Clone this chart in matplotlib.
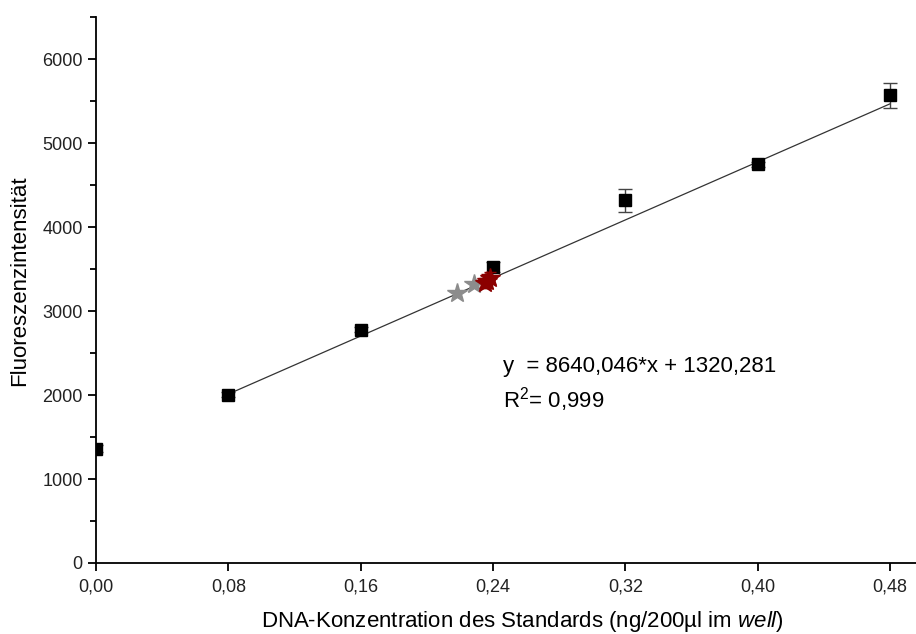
import matplotlib
matplotlib.use("Agg")
import matplotlib.pyplot as plt
from matplotlib.ticker import MultipleLocator, FuncFormatter

plt.rcParams['font.family'] = ['Liberation Sans', 'DejaVu Sans']
plt.rcParams['mathtext.fontset'] = 'custom'
plt.rcParams['mathtext.rm'] = 'Liberation Sans'
plt.rcParams['mathtext.it'] = 'Liberation Sans:italic'

# Standards (black squares)
std_x = [0.00, 0.08, 0.16, 0.24, 0.32, 0.40, 0.48]
std_y = [1360, 2005, 2780, 3530, 4320, 4750, 5570]
std_err = [40, 30, 30, 60, 135, 30, 150]

# samples (stars)
grey_x = [0.2183, 0.2286]
grey_y = [3210, 3317]
red_x = [0.2350, 0.2365, 0.2380]
red_y = [3330, 3360, 3390]
red_err = [60, 80, 70]

# linear fit
slope = 8640.046
icept = 1320.281
fit_x = [0.08, 0.48]
fit_y = [slope * v + icept for v in fit_x]

fig = plt.figure(figsize=(9.16, 6.34), dpi=100)
ax = fig.add_axes([0.1048, 0.112, 0.8952, 0.861])

ax.plot(fit_x, fit_y, color='#333333', lw=0.9, zorder=2)
ax.errorbar(std_x, std_y, yerr=std_err, fmt='s', color='black', ms=8,
            ecolor='#444444', elinewidth=1, capsize=5, capthick=1, zorder=3)
ax.plot(grey_x, grey_y, '*', color='#8c8c8c', ms=15, zorder=4)
ax.errorbar(red_x, red_y, yerr=red_err, fmt='*', color='#8b0000', ms=15,
            ecolor='#8b0000', elinewidth=1, capsize=4, zorder=5)

ax.text(0.2461, 2339, 'y  = 8640,046*x + 1320,281', fontsize=16, va='center')
ax.text(0.2461, 1945, 'R$^2$= 0,999', fontsize=16, va='center')

ax.set_xlim(0, 0.4957)
ax.set_ylim(0, 6500)
ax.xaxis.set_major_locator(MultipleLocator(0.08))
ax.yaxis.set_major_locator(MultipleLocator(1000))
ax.yaxis.set_minor_locator(MultipleLocator(500))
ax.xaxis.set_major_formatter(FuncFormatter(lambda v, p: f'{v:.2f}'.replace('.', ',')))

for s in ['top', 'right']:
    ax.spines[s].set_visible(False)
for s in ['left', 'bottom']:
    ax.spines[s].set_linewidth(1.3)
ax.tick_params(which='major', length=6, width=1.3, labelsize=13, direction='out',
               labelcolor='#222222')
ax.tick_params(axis='x', pad=5)
ax.tick_params(which='minor', length=4, width=1.3)

ax.set_xlabel('DNA-Konzentration des Standards (ng/200µl im $\\mathit{well}$)', fontsize=16)
ax.set_ylabel('Fluoreszenzintensität', fontsize=16)
ax.xaxis.set_label_coords(0.5195, -0.085)
ax.yaxis.set_label_coords(-0.08, 0.518)

fig.savefig('out.png', dpi=100)
